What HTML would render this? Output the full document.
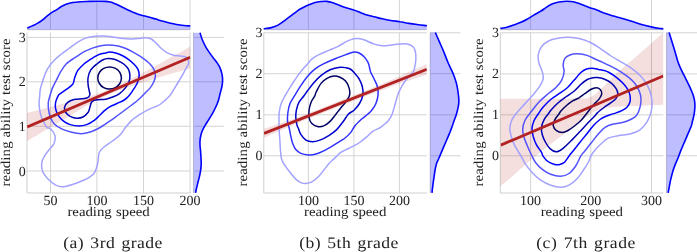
<!DOCTYPE html>
<html lang="en"><head><meta charset="utf-8"><title>Reading speed vs reading ability</title>
<style>
html,body{margin:0;padding:0;background:#fff;}
body{width:697px;height:252px;overflow:hidden;font-family:"Liberation Serif","DejaVu Serif",serif;}
svg{display:block;}
</style></head><body>
<svg width="697" height="252" viewBox="0 0 697 252">
<rect width="697" height="252" fill="#fff"/>
<g>
<clipPath id="ca"><rect x="27.0" y="32.5" width="163.4" height="160.5"/></clipPath>
<path d="M50.50,32.5V193.0M50.50,0.0V29.7M96.90,32.5V193.0M96.90,0.0V29.7M143.50,32.5V193.0M143.50,0.0V29.7M190.10,32.5V193.0M190.10,0.0V29.7M27.0,171.00H190.4M193.5,171.00H224.0M27.0,126.30H190.4M193.5,126.30H224.0M27.0,81.80H190.4M193.5,81.80H224.0M27.0,37.40H190.4M193.5,37.40H224.0" stroke="#cfcfcf" stroke-width="0.9" fill="none"/>
<path d="M27.0,32.5V193.0H190.4 M27.0,29.7H190.4 M193.5,32.5V193.0" stroke="#cfcfcf" stroke-width="1" fill="none"/>
<g clip-path="url(#ca)">
<path d="M27.0,113.0C32.5,111.6 49.5,107.3 60.0,104.5C70.5,101.7 81.7,98.9 90.0,96.3C98.3,93.7 103.3,91.8 110.0,89.0C116.7,86.2 121.7,83.7 130.0,79.4C138.3,75.1 149.9,68.9 160.0,63.4C170.1,57.9 185.3,49.3 190.4,46.5L190.4,68.2C185.3,69.7 170.1,73.9 160.0,77.0C149.9,80.1 138.3,83.7 130.0,86.6C121.7,89.5 116.7,91.3 110.0,94.2C103.3,97.1 98.3,99.4 90.0,103.9C81.7,108.5 70.5,115.3 60.0,121.5C49.5,127.7 32.5,137.9 27.0,141.2 Z" fill="#b22222" fill-opacity="0.15"/>
<path d="M46.1,71.6C47.5,68.8 49.0,66.4 51.1,63.8C53.2,61.2 55.8,58.6 58.8,56.1C61.8,53.6 65.7,50.8 68.9,48.5C72.1,46.2 75.0,43.9 77.8,42.2C80.6,40.5 83.0,39.1 85.5,38.1C88.0,37.1 90.1,36.7 93.1,36.4C96.0,36.1 99.8,36.0 103.2,36.1C106.6,36.2 109.9,36.7 113.2,37.1C116.5,37.5 120.1,38.1 123.3,38.4C126.5,38.7 129.4,39.0 132.2,39.0C134.9,39.0 137.5,38.6 139.8,38.4C142.1,38.2 144.3,37.6 146.2,37.7C148.1,37.8 149.6,38.0 151.3,39.0C153.0,40.0 154.7,41.8 156.4,43.4C158.1,45.0 159.7,47.0 161.4,48.5C163.1,50.0 164.6,51.2 166.5,52.3C168.4,53.4 170.6,54.3 172.9,54.9C175.2,55.5 178.4,55.7 180.5,56.0C182.6,56.3 184.3,56.4 185.6,56.9C186.9,57.4 187.6,58.1 188.1,59.3C188.6,60.4 189.0,61.8 188.4,63.8C187.8,65.8 185.8,68.8 184.3,71.6C182.8,74.4 180.9,77.6 179.2,80.5C177.5,83.4 175.8,86.2 174.2,88.8C172.6,91.3 172.1,93.2 169.7,95.8C167.3,98.4 163.3,102.3 160.0,104.5C156.7,106.7 153.1,107.4 150.0,108.9C146.9,110.4 144.1,111.9 141.7,113.3C139.3,114.7 137.5,115.9 135.8,117.1C134.1,118.3 133.4,118.7 131.7,120.4C130.0,122.1 127.4,125.1 125.4,127.5C123.5,129.9 122.2,132.8 120.0,135.0C117.8,137.2 115.2,139.0 112.5,141.0C109.8,143.0 106.2,145.2 104.0,147.0C101.8,148.8 100.4,150.3 99.5,152.0C98.6,153.7 98.8,154.9 98.5,157.0C98.2,159.1 98.1,161.8 97.5,164.3C96.9,166.8 96.2,169.7 95.0,171.8C93.8,173.9 92.2,175.3 90.0,176.8C87.8,178.3 84.8,179.7 81.7,181.0C78.7,182.3 74.9,183.7 71.7,184.7C68.5,185.7 65.2,186.7 62.5,186.8C59.9,186.9 58.2,186.4 55.8,185.2C53.4,183.9 50.5,181.7 48.3,179.3C46.1,176.9 43.6,173.8 42.5,171.0C41.4,168.2 41.4,165.2 41.7,162.7C42.0,160.2 43.2,158.2 44.5,156.0C45.8,153.8 47.6,151.9 49.2,149.8C50.8,147.7 53.2,145.5 54.2,143.2C55.2,140.8 55.6,138.1 55.0,135.7C54.4,133.3 52.1,130.3 50.8,129.0C49.5,127.7 48.2,128.4 47.3,127.8C46.4,127.2 46.3,126.9 45.4,125.2C44.5,123.5 42.5,120.1 41.6,117.6C40.7,115.1 40.1,112.5 39.7,110.0C39.3,107.5 39.1,104.7 39.1,102.4C39.1,100.1 39.5,98.2 39.7,96.0C39.9,93.8 39.8,92.0 40.3,89.4C40.8,86.8 41.9,83.5 42.9,80.5C43.9,77.5 44.7,74.4 46.1,71.6Z" fill="none" stroke="#a3a3ff" stroke-width="1.5"/>
<path d="M60.7,71.6C62.4,68.8 64.0,66.2 66.4,63.8C68.8,61.4 72.3,59.4 75.3,57.4C78.3,55.4 81.2,53.3 84.2,51.7C87.2,50.1 90.3,48.9 93.1,47.9C95.8,46.9 98.2,46.2 100.7,45.7C103.2,45.2 105.4,44.9 108.3,44.9C111.2,44.9 115.3,45.4 118.2,46.0C121.1,46.6 123.4,47.5 125.9,48.5C128.5,49.5 131.0,50.9 133.5,52.3C136.0,53.7 139.0,55.4 141.1,56.8C143.2,58.2 144.7,59.4 146.2,60.6C147.7,61.8 148.7,62.6 150.0,64.0C151.3,65.4 152.9,67.2 153.8,69.1C154.7,71.0 155.4,73.3 155.4,75.4C155.4,77.5 154.7,79.7 153.8,81.8C152.9,83.9 151.5,86.2 150.0,88.1C148.5,90.0 146.8,91.2 144.9,93.2C143.0,95.2 140.5,97.8 138.3,99.8C136.1,101.8 133.9,103.3 131.7,105.0C129.5,106.7 127.2,108.3 125.0,110.0C122.8,111.7 120.7,113.3 118.3,115.0C115.9,116.7 113.6,118.5 110.8,120.4C108.0,122.3 104.9,124.7 101.7,126.5C98.5,128.3 95.0,130.3 91.7,131.5C88.4,132.7 85.0,133.6 81.7,133.7C78.4,133.8 75.0,133.1 71.7,132.3C68.4,131.5 64.6,130.3 61.7,128.9C58.8,127.5 56.2,125.9 54.3,124.0C52.4,122.1 51.5,119.9 50.5,117.6C49.5,115.3 49.0,112.5 48.6,110.0C48.2,107.5 48.1,104.7 48.3,102.4C48.5,100.1 49.2,98.4 49.9,96.0C50.6,93.6 51.3,90.7 52.4,88.1C53.5,85.5 54.8,83.2 56.2,80.5C57.6,77.8 59.0,74.4 60.7,71.6Z" fill="none" stroke="#5252ff" stroke-width="1.5"/>
<path d="M77.8,70.4C79.4,68.0 82.1,65.7 84.2,63.8C86.3,61.9 88.2,60.8 90.5,59.3C92.8,57.8 95.7,56.0 98.2,54.9C100.8,53.8 103.9,53.4 105.8,52.9C107.7,52.4 107.8,52.1 109.4,52.1C111.1,52.1 113.6,52.4 115.7,53.0C117.8,53.6 120.0,54.5 122.1,55.5C124.2,56.5 126.5,57.9 128.4,59.3C130.4,60.7 132.2,62.4 133.8,64.0C135.4,65.6 137.0,67.2 137.9,69.1C138.8,71.0 139.3,73.1 139.2,75.4C139.1,77.7 138.2,80.8 137.3,83.1C136.4,85.4 134.9,87.3 133.5,89.4C132.1,91.5 130.6,94.0 129.0,95.8C127.5,97.6 126.1,98.8 124.2,100.0C122.3,101.2 119.9,102.2 117.5,103.3C115.1,104.4 112.2,105.5 110.0,106.7C107.8,108.0 106.0,109.3 104.2,110.8C102.4,112.3 100.9,114.2 99.2,115.8C97.5,117.4 96.4,118.9 94.3,120.4C92.2,121.9 89.2,123.7 86.7,124.6C84.2,125.5 81.8,125.9 79.1,125.9C76.3,125.9 72.8,125.4 70.2,124.6C67.6,123.8 65.2,122.4 63.2,120.8C61.2,119.2 59.4,117.1 58.1,115.1C56.8,113.1 56.0,110.8 55.6,108.7C55.2,106.6 55.2,104.6 55.6,102.4C56.0,100.2 57.4,97.2 58.1,95.8C58.8,94.4 58.6,95.0 60.0,93.9C61.4,92.8 64.3,91.0 66.4,89.4C68.5,87.8 71.3,86.2 72.7,84.3C74.1,82.4 73.8,80.3 74.6,78.0C75.4,75.7 76.2,72.8 77.8,70.4Z" fill="none" stroke="#0000ff" stroke-width="1.5"/>
<path d="M74.0,99.6C76.3,99.0 79.6,99.0 81.6,98.8C83.6,98.6 84.8,98.5 86.0,98.2C87.2,97.9 87.9,97.6 88.6,97.0C89.2,96.4 89.8,95.3 89.9,94.5C90.1,93.7 89.8,93.5 89.5,92.0C89.2,90.5 88.5,87.9 88.2,85.6C88.0,83.3 87.6,80.5 88.0,78.0C88.4,75.5 89.0,72.7 90.5,70.4C92.0,68.1 94.8,65.8 96.9,64.0C99.0,62.2 101.1,60.7 103.0,59.8C104.9,58.9 106.2,58.6 108.1,58.5C110.0,58.4 112.5,58.8 114.4,59.3C116.3,59.8 117.9,60.7 119.5,61.5C121.1,62.3 122.5,62.9 124.0,64.2C125.5,65.5 127.4,67.2 128.4,69.1C129.4,71.0 129.8,73.3 129.9,75.4C130.0,77.5 129.8,79.7 129.0,81.8C128.2,83.9 126.8,86.1 125.2,88.1C123.6,90.1 121.5,92.1 119.5,93.6C117.5,95.0 115.6,95.9 113.3,96.8C111.0,97.7 108.3,98.7 105.8,99.2C103.3,99.7 100.2,99.5 98.2,99.7C96.2,99.9 94.8,100.0 93.6,100.5C92.4,101.0 91.8,101.6 91.2,102.8C90.6,104.0 90.4,105.8 89.9,107.4C89.4,109.0 89.2,110.9 88.0,112.5C86.8,114.1 84.8,116.0 82.9,117.0C81.0,118.0 78.7,118.3 76.6,118.2C74.5,118.1 72.0,117.2 70.2,116.3C68.4,115.3 66.8,114.0 65.8,112.5C64.8,111.0 64.2,109.1 64.5,107.4C64.8,105.7 66.1,103.7 67.7,102.4C69.3,101.1 71.7,100.2 74.0,99.6Z" fill="none" stroke="#0000b4" stroke-width="1.5"/>
<path d="M121.4,78.0C121.4,79.8 120.8,81.9 119.8,83.5C118.8,85.2 117.2,86.7 115.5,87.6C113.8,88.5 111.6,89.1 109.6,89.1C107.6,89.1 105.4,88.5 103.7,87.6C102.0,86.7 100.4,85.2 99.4,83.5C98.4,81.9 97.8,79.8 97.8,78.0C97.8,76.2 98.4,74.1 99.4,72.5C100.4,70.8 102.0,69.3 103.7,68.4C105.4,67.5 107.6,66.9 109.6,66.9C111.6,66.9 113.8,67.5 115.5,68.4C117.2,69.3 118.8,70.8 119.8,72.4C120.8,74.1 121.4,76.2 121.4,78.0Z" fill="none" stroke="#000064" stroke-width="1.5"/>
<path d="M27.3,127.0L190.2,57.3" stroke="#b22222" stroke-width="2.8" stroke-linecap="butt"/>
</g>
<path d="M27.3,28.0C28.1,27.6 30.6,26.7 32.3,25.9C34.0,25.1 35.6,24.4 37.3,23.4C39.0,22.4 40.6,21.4 42.3,20.1C44.0,18.9 45.6,17.2 47.3,15.9C49.0,14.6 50.8,13.2 52.3,12.2C53.8,11.2 54.5,11.0 56.0,10.1C57.5,9.2 59.3,7.7 61.0,6.7C62.7,5.7 64.0,4.9 66.0,4.2C68.0,3.5 70.2,2.9 72.7,2.5C75.2,2.1 78.2,1.9 81.0,1.7C83.8,1.5 86.5,1.5 89.3,1.4C92.1,1.3 94.9,1.2 97.7,1.2C100.5,1.2 104.0,1.3 106.0,1.4C108.0,1.5 108.8,1.8 110.0,2.0C111.2,2.2 111.7,2.4 113.0,2.9C114.3,3.4 116.3,4.2 118.0,5.0C119.7,5.8 121.3,6.7 123.0,7.5C124.7,8.3 126.3,9.2 128.0,10.0C129.7,10.8 131.3,11.6 133.0,12.3C134.7,13.0 136.2,13.6 138.0,14.2C139.8,14.8 141.9,15.3 143.8,15.8C145.8,16.3 147.7,16.8 149.7,17.3C151.7,17.9 154.3,18.6 156.0,19.1C157.7,19.6 158.2,19.9 160.0,20.4C161.8,20.9 164.5,21.6 166.7,22.2C168.9,22.8 171.1,23.3 173.3,23.8C175.5,24.3 177.8,24.7 180.0,25.0C182.2,25.3 185.0,25.5 186.7,25.7C188.4,25.9 189.7,25.9 190.3,26.0L190.3,29.7L27.3,29.7Z" fill="rgba(0,0,255,0.26)"/>
<path d="M27.3,28.0C28.1,27.6 30.6,26.7 32.3,25.9C34.0,25.1 35.6,24.4 37.3,23.4C39.0,22.4 40.6,21.4 42.3,20.1C44.0,18.9 45.6,17.2 47.3,15.9C49.0,14.6 50.8,13.2 52.3,12.2C53.8,11.2 54.5,11.0 56.0,10.1C57.5,9.2 59.3,7.7 61.0,6.7C62.7,5.7 64.0,4.9 66.0,4.2C68.0,3.5 70.2,2.9 72.7,2.5C75.2,2.1 78.2,1.9 81.0,1.7C83.8,1.5 86.5,1.5 89.3,1.4C92.1,1.3 94.9,1.2 97.7,1.2C100.5,1.2 104.0,1.3 106.0,1.4C108.0,1.5 108.8,1.8 110.0,2.0C111.2,2.2 111.7,2.4 113.0,2.9C114.3,3.4 116.3,4.2 118.0,5.0C119.7,5.8 121.3,6.7 123.0,7.5C124.7,8.3 126.3,9.2 128.0,10.0C129.7,10.8 131.3,11.6 133.0,12.3C134.7,13.0 136.2,13.6 138.0,14.2C139.8,14.8 141.9,15.3 143.8,15.8C145.8,16.3 147.7,16.8 149.7,17.3C151.7,17.9 154.3,18.6 156.0,19.1C157.7,19.6 158.2,19.9 160.0,20.4C161.8,20.9 164.5,21.6 166.7,22.2C168.9,22.8 171.1,23.3 173.3,23.8C175.5,24.3 177.8,24.7 180.0,25.0C182.2,25.3 185.0,25.5 186.7,25.7C188.4,25.9 189.7,25.9 190.3,26.0" fill="none" stroke="#0000ff" stroke-width="1.6"/>
<path d="M200.0,32.8C200.4,34.0 201.4,37.7 202.5,40.2C203.6,42.7 204.8,45.3 206.3,47.8C207.8,50.3 209.7,53.0 211.4,55.4C213.1,57.8 215.1,60.0 216.5,62.0C217.9,64.0 218.8,65.2 219.7,67.1C220.6,69.0 221.3,71.3 221.8,73.4C222.3,75.5 222.6,77.7 222.6,79.8C222.6,81.9 222.4,83.7 222.0,86.1C221.6,88.5 220.6,91.6 220.0,94.0C219.4,96.4 219.1,98.3 218.4,100.4C217.7,102.5 216.9,104.6 215.9,106.7C214.9,108.8 213.9,111.0 212.7,113.1C211.5,115.2 210.2,117.3 208.9,119.4C207.6,121.5 206.2,123.5 205.0,125.6C203.8,127.6 202.7,129.5 201.9,131.7C201.1,133.9 200.5,136.5 200.2,138.7C199.9,140.9 199.9,142.9 200.0,145.0C200.1,147.1 200.4,149.2 200.6,151.4C200.8,153.6 200.9,155.8 201.0,158.0C201.1,160.2 201.3,162.3 201.2,164.4C201.1,166.5 200.9,168.6 200.6,170.7C200.3,172.8 199.8,175.0 199.3,177.1C198.8,179.2 198.2,181.3 197.7,183.4C197.2,185.5 196.5,188.2 196.2,189.8C195.8,191.4 195.7,192.3 195.6,192.8L193.5,192.8L193.5,32.8Z" fill="rgba(0,0,255,0.26)"/>
<path d="M200.0,32.8C200.4,34.0 201.4,37.7 202.5,40.2C203.6,42.7 204.8,45.3 206.3,47.8C207.8,50.3 209.7,53.0 211.4,55.4C213.1,57.8 215.1,60.0 216.5,62.0C217.9,64.0 218.8,65.2 219.7,67.1C220.6,69.0 221.3,71.3 221.8,73.4C222.3,75.5 222.6,77.7 222.6,79.8C222.6,81.9 222.4,83.7 222.0,86.1C221.6,88.5 220.6,91.6 220.0,94.0C219.4,96.4 219.1,98.3 218.4,100.4C217.7,102.5 216.9,104.6 215.9,106.7C214.9,108.8 213.9,111.0 212.7,113.1C211.5,115.2 210.2,117.3 208.9,119.4C207.6,121.5 206.2,123.5 205.0,125.6C203.8,127.6 202.7,129.5 201.9,131.7C201.1,133.9 200.5,136.5 200.2,138.7C199.9,140.9 199.9,142.9 200.0,145.0C200.1,147.1 200.4,149.2 200.6,151.4C200.8,153.6 200.9,155.8 201.0,158.0C201.1,160.2 201.3,162.3 201.2,164.4C201.1,166.5 200.9,168.6 200.6,170.7C200.3,172.8 199.8,175.0 199.3,177.1C198.8,179.2 198.2,181.3 197.7,183.4C197.2,185.5 196.5,188.2 196.2,189.8C195.8,191.4 195.7,192.3 195.6,192.8" fill="none" stroke="#0000ff" stroke-width="1.6"/>
<g font-family="'Liberation Serif', 'DejaVu Serif', serif" font-size="14" fill="#222" text-rendering="geometricPrecision">
<text x="50.5" y="205.4" text-anchor="middle">50</text>
<text x="96.9" y="205.4" text-anchor="middle">100</text>
<text x="143.5" y="205.4" text-anchor="middle">150</text>
<text x="190.1" y="205.4" text-anchor="middle">200</text>
<text x="25.8" y="175.5" text-anchor="end">0</text>
<text x="25.8" y="130.8" text-anchor="end">1</text>
<text x="25.8" y="86.3" text-anchor="end">2</text>
<text x="25.8" y="41.9" text-anchor="end">3</text>
</g>
<g font-family="'Liberation Serif', 'DejaVu Serif', serif" font-size="13.5" fill="#222" text-rendering="geometricPrecision">
<text transform="translate(108.6,216.2) scale(1.100,1)" text-anchor="middle" textLength="74.8" word-spacing="0.6" lengthAdjust="spacing">reading speed</text>
<text transform="translate(9.8,112.5) rotate(-90) scale(1.100,1)" text-anchor="middle" textLength="134.7" lengthAdjust="spacing">reading ability test score</text>
</g>
<text transform="translate(112.8,247.8) scale(1.100,1)" text-anchor="middle" font-family="'Liberation Serif', 'DejaVu Serif', serif" font-size="16" fill="#222" text-rendering="geometricPrecision" word-spacing="1.2" textLength="90.2" lengthAdjust="spacing">(a) 3rd grade</text>
</g>
<g>
<clipPath id="cb"><rect x="263.8" y="32.5" width="163.0" height="160.5"/></clipPath>
<path d="M308.40,32.5V193.0M308.40,0.0V29.7M353.90,32.5V193.0M353.90,0.0V29.7M399.40,32.5V193.0M399.40,0.0V29.7M263.8,155.80H426.8M430.1,155.80H460.5M263.8,114.80H426.8M430.1,114.80H460.5M263.8,73.70H426.8M430.1,73.70H460.5M263.8,32.80H426.8M430.1,32.80H460.5" stroke="#cfcfcf" stroke-width="0.9" fill="none"/>
<path d="M263.8,32.5V193.0H426.8 M263.8,29.7H426.8 M430.1,32.5V193.0" stroke="#cfcfcf" stroke-width="1" fill="none"/>
<g clip-path="url(#cb)">
<path d="M263.8,128.8C269.8,126.7 286.5,121.4 300.0,116.4C313.5,111.4 330.0,104.8 345.0,98.8C360.0,92.8 376.4,86.2 390.0,80.4C403.6,74.6 420.7,66.7 426.8,64.0L426.8,74.6C420.7,76.7 403.6,82.3 390.0,87.2C376.4,92.1 360.0,98.4 345.0,104.2C330.0,110.0 313.5,116.6 300.0,122.2C286.5,127.8 269.8,135.2 263.8,137.8 Z" fill="#b22222" fill-opacity="0.15"/>
<path d="M300.8,71.6C303.0,68.8 305.6,66.2 307.5,64.0C309.4,61.9 310.2,60.3 312.3,58.7C314.4,57.1 317.1,55.6 319.9,54.2C322.6,52.8 325.8,51.7 328.8,50.4C331.8,49.1 334.9,48.0 337.7,46.6C340.4,45.2 343.1,43.4 345.3,42.2C347.5,41.0 349.1,40.2 351.0,39.6C352.9,39.0 354.8,38.5 356.5,38.4C358.2,38.3 359.5,38.6 361.0,38.9C362.5,39.2 363.2,39.4 365.4,40.3C367.6,41.2 371.3,43.2 374.3,44.1C377.3,45.0 380.0,45.6 383.2,45.7C386.4,45.8 390.0,45.0 393.4,44.7C396.8,44.4 400.8,43.8 403.5,43.8C406.2,43.8 408.1,44.0 409.9,44.7C411.6,45.4 413.0,46.4 414.0,47.9C415.0,49.4 415.4,51.6 415.7,53.6C416.0,55.6 415.9,58.3 415.8,60.0C415.7,61.7 415.7,61.8 415.3,63.8C414.9,65.8 414.7,69.2 413.3,71.7C411.9,74.2 408.7,76.4 406.9,78.7C405.1,81.0 403.8,82.8 402.3,85.3C400.9,87.8 399.3,90.9 398.2,93.7C397.1,96.5 396.7,98.7 395.7,102.0C394.7,105.3 393.5,110.6 392.3,113.7C391.1,116.8 389.8,118.8 388.3,120.7C386.8,122.6 385.0,123.8 383.5,125.0C382.0,126.2 381.1,127.0 379.4,128.0C377.6,129.0 375.1,129.7 373.0,131.2C370.9,132.7 368.8,135.1 366.7,136.9C364.6,138.7 362.6,140.4 360.3,142.0C358.0,143.6 355.2,145.0 352.7,146.4C350.2,147.8 347.2,149.1 345.1,150.2C343.0,151.3 341.4,151.7 340.0,152.8C338.6,153.9 337.6,155.4 336.4,156.6C335.2,157.8 333.9,158.8 332.6,160.0C331.3,161.2 330.3,162.1 328.8,163.8C327.3,165.5 325.4,168.1 323.7,170.2C322.0,172.3 320.5,174.6 318.6,176.5C316.7,178.4 314.4,180.4 312.3,181.6C310.2,182.8 307.8,183.3 305.9,183.5C304.0,183.7 302.5,183.3 300.8,182.6C299.1,181.9 297.5,180.6 295.8,179.1C294.1,177.6 292.4,175.4 290.7,173.3C289.0,171.2 287.1,168.7 285.6,166.4C284.1,164.2 282.7,162.4 281.8,159.8C280.9,157.2 280.8,154.1 280.5,150.9C280.2,147.7 280.1,144.1 279.9,140.7C279.7,137.3 279.3,133.7 279.2,130.5C279.1,127.3 279.0,124.4 279.0,121.4C279.0,118.4 278.8,115.5 279.2,112.5C279.6,109.5 280.2,106.4 281.2,103.6C282.2,100.8 283.7,98.2 285.0,95.8C286.3,93.4 287.2,92.0 288.8,89.4C290.4,86.9 292.5,83.5 294.5,80.5C296.5,77.5 298.6,74.3 300.8,71.6Z" fill="none" stroke="#a3a3ff" stroke-width="1.5"/>
<path d="M300.8,85.6C302.9,82.4 304.9,79.5 307.2,76.7C309.5,74.0 312.1,71.2 314.8,69.1C317.5,67.0 320.0,65.6 323.4,63.9C326.8,62.2 331.5,60.2 335.2,58.7C338.9,57.2 342.8,55.9 345.3,54.9C347.9,53.9 349.0,53.5 350.5,53.0C352.0,52.5 353.0,52.1 354.4,52.1C355.8,52.1 357.5,52.2 359.1,53.0C360.7,53.8 362.7,55.4 364.1,56.8C365.5,58.2 366.5,59.9 367.3,61.2C368.1,62.5 368.2,62.7 368.8,64.5C369.4,66.3 369.7,69.6 370.6,72.0C371.5,74.4 372.9,76.2 374.0,78.7C375.1,81.2 376.8,84.2 377.5,87.0C378.2,89.8 378.3,92.5 378.0,95.3C377.7,98.1 376.9,101.2 375.8,103.7C374.8,106.2 373.0,108.6 371.7,110.3C370.4,112.0 369.7,112.5 368.0,114.0C366.3,115.5 363.9,117.0 361.7,119.0C359.5,121.0 356.8,123.5 355.0,125.7C353.2,127.9 352.4,130.3 350.8,132.4C349.2,134.5 346.7,136.7 345.1,138.0C343.6,139.3 343.6,139.0 341.5,140.3C339.4,141.6 335.6,144.0 332.6,145.8C329.6,147.6 326.4,149.5 323.7,150.9C320.9,152.3 318.6,153.3 316.1,154.0C313.6,154.7 311.1,155.0 308.5,154.9C305.9,154.8 302.9,154.3 300.8,153.4C298.7,152.5 297.2,151.3 295.8,149.6C294.4,147.9 293.5,145.5 292.6,143.2C291.8,140.9 291.3,138.1 290.7,135.6C290.1,133.1 289.7,130.4 289.2,128.0C288.7,125.6 287.7,124.0 287.5,121.4C287.3,118.8 287.5,115.5 287.9,112.5C288.3,109.5 288.9,106.4 290.0,103.6C291.1,100.8 292.7,98.8 294.5,95.8C296.3,92.8 298.7,88.8 300.8,85.6Z" fill="none" stroke="#3030ff" stroke-width="1.5"/>
<path d="M304.0,95.8C305.4,93.9 305.6,93.4 307.2,91.3C308.8,89.2 311.3,85.8 313.6,83.1C315.9,80.4 318.4,77.6 321.2,75.4C323.9,73.2 326.9,71.1 330.1,69.7C333.3,68.3 337.6,67.5 340.2,67.2C342.8,66.9 344.2,67.4 346.0,67.8C347.8,68.2 349.6,68.6 351.0,69.5C352.4,70.4 353.2,71.5 354.5,73.0C355.8,74.5 357.7,76.4 359.0,78.7C360.3,81.0 361.8,84.2 362.4,87.0C363.0,89.8 363.3,92.5 362.8,95.3C362.3,98.0 361.0,101.0 359.5,103.5C358.0,106.0 355.8,108.5 354.0,110.3C352.2,112.0 350.3,112.1 348.5,114.0C346.7,115.9 345.2,118.8 343.2,121.5C341.2,124.2 338.8,127.6 336.4,129.9C334.0,132.2 331.6,133.9 328.8,135.6C326.1,137.3 322.6,139.1 319.9,140.1C317.1,141.1 314.6,141.7 312.3,141.7C310.0,141.7 307.8,141.3 305.9,140.1C304.0,138.9 302.1,136.4 300.8,134.4C299.5,132.4 298.9,129.5 298.3,128.0C297.7,126.5 297.4,126.9 297.0,125.2C296.6,123.5 295.9,120.1 295.8,117.6C295.7,115.1 295.9,112.5 296.4,110.0C296.9,107.5 297.6,104.8 298.9,102.4C300.2,100.0 302.6,97.7 304.0,95.8Z" fill="none" stroke="#0000cc" stroke-width="1.5"/>
<path d="M333.9,76.1C336.1,75.9 338.1,76.5 340.0,77.3C341.9,78.1 343.9,79.3 345.3,80.8C346.7,82.3 347.9,84.6 348.6,86.5C349.4,88.4 349.7,90.3 349.8,92.0C349.9,93.7 349.9,94.7 349.1,96.5C348.4,98.3 346.8,100.6 345.3,102.6C343.8,104.6 341.9,106.6 340.2,108.7C338.5,110.8 336.9,113.0 335.2,115.1C333.5,117.2 332.0,119.6 330.1,121.4C328.2,123.2 325.8,125.1 323.7,125.9C321.6,126.8 319.4,126.9 317.4,126.5C315.4,126.1 313.0,124.8 311.6,123.3C310.2,121.8 309.5,119.8 309.1,117.6C308.7,115.4 308.8,112.5 309.1,110.0C309.4,107.5 310.1,104.8 311.0,102.4C311.9,100.0 313.9,97.6 314.8,95.8C315.7,94.0 315.3,93.6 316.4,91.5C317.5,89.4 319.4,85.3 321.2,83.1C323.0,80.9 324.9,79.5 327.0,78.3C329.1,77.1 331.7,76.3 333.9,76.1Z" fill="none" stroke="#000064" stroke-width="1.5"/>
<path d="M264.1,133.4L426.9,69.2" stroke="#b22222" stroke-width="2.8" stroke-linecap="butt"/>
</g>
<path d="M263.7,28.7C265.0,28.5 268.9,28.2 271.3,27.6C273.7,27.0 275.9,26.2 278.0,25.1C280.1,24.0 282.1,22.4 284.2,20.8C286.3,19.2 288.6,17.5 290.8,15.8C293.0,14.1 295.4,12.2 297.5,10.8C299.6,9.4 301.5,8.5 303.3,7.5C305.1,6.5 306.4,5.8 308.3,5.0C310.2,4.2 312.8,3.1 315.0,2.5C317.2,1.9 319.7,1.7 321.7,1.5C323.7,1.3 325.3,1.2 327.0,1.4C328.7,1.6 330.1,1.9 332.0,2.5C333.9,3.1 336.5,4.2 338.7,5.0C340.9,5.8 342.8,6.7 345.3,7.5C347.8,8.3 351.2,9.2 353.7,10.0C356.2,10.8 358.1,11.7 360.3,12.5C362.5,13.3 364.7,14.3 367.0,15.0C369.3,15.7 371.4,16.2 374.0,16.8C376.6,17.4 379.5,18.2 382.3,18.8C385.1,19.4 387.8,20.0 390.7,20.5C393.6,21.0 396.8,21.3 399.8,21.8C402.9,22.2 405.9,22.9 409.0,23.4C412.1,23.9 415.2,24.3 418.2,24.7C421.2,25.1 425.4,25.5 426.9,25.7L426.9,29.7L263.7,29.7Z" fill="rgba(0,0,255,0.26)"/>
<path d="M263.7,28.7C265.0,28.5 268.9,28.2 271.3,27.6C273.7,27.0 275.9,26.2 278.0,25.1C280.1,24.0 282.1,22.4 284.2,20.8C286.3,19.2 288.6,17.5 290.8,15.8C293.0,14.1 295.4,12.2 297.5,10.8C299.6,9.4 301.5,8.5 303.3,7.5C305.1,6.5 306.4,5.8 308.3,5.0C310.2,4.2 312.8,3.1 315.0,2.5C317.2,1.9 319.7,1.7 321.7,1.5C323.7,1.3 325.3,1.2 327.0,1.4C328.7,1.6 330.1,1.9 332.0,2.5C333.9,3.1 336.5,4.2 338.7,5.0C340.9,5.8 342.8,6.7 345.3,7.5C347.8,8.3 351.2,9.2 353.7,10.0C356.2,10.8 358.1,11.7 360.3,12.5C362.5,13.3 364.7,14.3 367.0,15.0C369.3,15.7 371.4,16.2 374.0,16.8C376.6,17.4 379.5,18.2 382.3,18.8C385.1,19.4 387.8,20.0 390.7,20.5C393.6,21.0 396.8,21.3 399.8,21.8C402.9,22.2 405.9,22.9 409.0,23.4C412.1,23.9 415.2,24.3 418.2,24.7C421.2,25.1 425.4,25.5 426.9,25.7" fill="none" stroke="#0000ff" stroke-width="1.6"/>
<path d="M435.4,32.5C436.0,34.0 437.8,38.2 439.2,41.4C440.6,44.6 442.3,48.2 443.7,51.6C445.1,55.0 446.5,59.0 447.8,62.0C449.1,65.0 450.2,67.1 451.3,69.6C452.4,72.1 453.6,74.7 454.5,77.2C455.4,79.8 456.2,82.1 456.8,84.9C457.4,87.7 458.0,91.4 458.3,94.0C458.6,96.6 458.9,98.3 458.9,100.4C458.9,102.5 458.7,104.4 458.3,106.7C457.9,109.0 457.1,111.9 456.4,114.3C455.7,116.7 454.6,119.3 453.9,121.3C453.2,123.2 453.1,124.0 452.3,126.0C451.6,128.1 450.5,130.8 449.4,133.6C448.3,136.3 446.9,139.5 445.6,142.5C444.3,145.5 442.9,148.8 441.8,151.4C440.7,154.0 439.9,156.1 439.0,158.0C438.1,159.9 437.3,161.2 436.7,163.1C436.1,165.0 435.6,167.3 435.2,169.4C434.8,171.5 434.5,173.5 434.2,175.8C433.9,178.1 433.4,181.1 433.1,183.4C432.8,185.7 432.5,188.2 432.3,189.8C432.1,191.4 432.1,192.3 432.0,192.8L430.1,192.8L430.1,32.5Z" fill="rgba(0,0,255,0.26)"/>
<path d="M435.4,32.5C436.0,34.0 437.8,38.2 439.2,41.4C440.6,44.6 442.3,48.2 443.7,51.6C445.1,55.0 446.5,59.0 447.8,62.0C449.1,65.0 450.2,67.1 451.3,69.6C452.4,72.1 453.6,74.7 454.5,77.2C455.4,79.8 456.2,82.1 456.8,84.9C457.4,87.7 458.0,91.4 458.3,94.0C458.6,96.6 458.9,98.3 458.9,100.4C458.9,102.5 458.7,104.4 458.3,106.7C457.9,109.0 457.1,111.9 456.4,114.3C455.7,116.7 454.6,119.3 453.9,121.3C453.2,123.2 453.1,124.0 452.3,126.0C451.6,128.1 450.5,130.8 449.4,133.6C448.3,136.3 446.9,139.5 445.6,142.5C444.3,145.5 442.9,148.8 441.8,151.4C440.7,154.0 439.9,156.1 439.0,158.0C438.1,159.9 437.3,161.2 436.7,163.1C436.1,165.0 435.6,167.3 435.2,169.4C434.8,171.5 434.5,173.5 434.2,175.8C433.9,178.1 433.4,181.1 433.1,183.4C432.8,185.7 432.5,188.2 432.3,189.8C432.1,191.4 432.1,192.3 432.0,192.8" fill="none" stroke="#0000ff" stroke-width="1.6"/>
<g font-family="'Liberation Serif', 'DejaVu Serif', serif" font-size="14" fill="#222" text-rendering="geometricPrecision">
<text x="308.4" y="205.4" text-anchor="middle">100</text>
<text x="353.9" y="205.4" text-anchor="middle">150</text>
<text x="399.4" y="205.4" text-anchor="middle">200</text>
<text x="262.6" y="160.3" text-anchor="end">0</text>
<text x="262.6" y="119.3" text-anchor="end">1</text>
<text x="262.6" y="78.2" text-anchor="end">2</text>
<text x="262.6" y="37.3" text-anchor="end">3</text>
</g>
<g font-family="'Liberation Serif', 'DejaVu Serif', serif" font-size="13.5" fill="#222" text-rendering="geometricPrecision">
<text transform="translate(345.2,216.2) scale(1.100,1)" text-anchor="middle" textLength="74.8" word-spacing="0.6" lengthAdjust="spacing">reading speed</text>
<text transform="translate(246.6,112.5) rotate(-90) scale(1.100,1)" text-anchor="middle" textLength="134.7" lengthAdjust="spacing">reading ability test score</text>
</g>
<text transform="translate(348.8,247.8) scale(1.100,1)" text-anchor="middle" font-family="'Liberation Serif', 'DejaVu Serif', serif" font-size="16" fill="#222" text-rendering="geometricPrecision" word-spacing="1.2" textLength="90.2" lengthAdjust="spacing">(b) 5th grade</text>
</g>
<g>
<clipPath id="cc"><rect x="500.3" y="32.5" width="163.1" height="160.5"/></clipPath>
<path d="M530.60,32.5V193.0M530.60,0.0V29.7M590.80,32.5V193.0M590.80,0.0V29.7M651.50,32.5V193.0M651.50,0.0V29.7M500.3,155.80H663.4M666.5,155.80H697.0M500.3,114.80H663.4M666.5,114.80H697.0M500.3,73.90H663.4M666.5,73.90H697.0M500.3,32.80H663.4M666.5,32.80H697.0" stroke="#cfcfcf" stroke-width="0.9" fill="none"/>
<path d="M500.3,32.5V193.0H663.4 M500.3,29.7H663.4 M666.5,32.5V193.0" stroke="#cfcfcf" stroke-width="1" fill="none"/>
<g clip-path="url(#cc)">
<path d="M500.3,98.7C506.9,98.7 528.4,98.7 540.0,98.7C551.6,98.7 563.0,98.7 570.0,98.7C577.0,98.7 579.0,98.7 582.0,98.6C585.0,98.5 586.2,98.5 588.0,98.0C589.8,97.5 591.3,96.8 593.0,95.8C594.7,94.8 596.4,93.2 598.0,91.8C599.6,90.4 598.5,91.4 602.5,87.6C606.5,83.8 616.0,74.0 621.8,68.7C627.5,63.4 630.1,62.0 637.0,56.0C643.9,50.0 659.0,36.4 663.4,32.5L663.4,104.8C659.5,105.0 647.2,105.5 640.0,105.8C632.8,106.1 626.0,106.1 620.0,106.5C614.0,106.9 608.7,107.2 604.0,108.3C599.3,109.4 595.7,111.1 592.0,113.0C588.3,114.9 585.5,117.3 582.0,119.8C578.5,122.3 574.3,125.6 571.2,128.0C568.1,130.4 566.5,132.1 563.5,134.4C560.5,136.7 557.0,139.2 553.4,142.0C549.8,144.8 545.6,147.9 541.9,150.9C538.2,153.9 536.2,155.4 531.1,159.8C526.0,164.2 516.1,173.1 511.0,177.5C505.9,181.9 502.1,185.0 500.3,186.5 Z" fill="#b22222" fill-opacity="0.15"/>
<path d="M542.3,71.7C541.6,69.1 539.7,66.1 539.0,63.3C538.3,60.5 537.8,57.8 538.2,55.0C538.6,52.2 539.7,49.1 541.5,46.7C543.3,44.3 546.1,42.2 549.0,40.8C551.9,39.3 555.7,38.6 559.0,38.0C562.3,37.4 565.7,37.1 569.0,37.2C572.3,37.3 575.7,37.6 579.0,38.4C582.3,39.2 585.5,40.1 589.0,41.8C592.5,43.4 596.3,45.9 600.0,48.3C603.7,50.7 607.4,53.6 611.0,56.0C614.6,58.4 618.3,60.3 621.8,62.4C625.3,64.5 628.7,66.4 631.9,68.7C635.1,71.0 638.5,73.9 640.8,76.3C643.1,78.7 644.4,80.7 645.9,83.0C647.4,85.3 648.8,87.9 649.7,90.4C650.7,92.9 651.2,95.5 651.6,98.0C652.0,100.5 652.2,103.0 652.0,105.6C651.8,108.2 651.5,110.9 650.6,113.7C649.7,116.5 648.5,119.6 646.7,122.3C644.9,125.0 642.8,127.9 640.0,129.8C637.2,131.8 633.6,133.0 630.0,134.0C626.4,135.0 621.9,135.0 618.3,135.7C614.7,136.4 611.3,136.7 608.3,138.2C605.2,139.7 602.5,142.5 600.0,144.8C597.5,147.2 594.8,150.4 593.3,152.3C591.8,154.2 591.4,155.1 590.7,156.5C590.0,157.9 590.1,158.9 589.0,161.0C587.9,163.1 586.0,166.4 584.0,169.3C582.0,172.2 579.8,175.8 577.3,178.5C574.8,181.2 571.8,183.7 569.0,185.2C566.2,186.7 563.8,187.3 560.7,187.3C557.7,187.3 554.0,186.4 550.7,185.2C547.4,184.0 543.8,182.3 540.7,180.2C537.6,178.1 534.8,175.3 532.3,172.7C529.8,170.0 527.6,167.1 525.7,164.3C523.8,161.5 522.8,159.1 521.0,156.0C519.2,152.9 516.4,148.8 514.8,145.7C513.2,142.6 512.3,140.1 511.5,137.3C510.7,134.5 509.8,131.8 509.8,129.0C509.8,126.2 510.5,123.2 511.5,120.7C512.5,118.2 514.5,115.7 515.7,114.0C517.0,112.3 517.2,112.3 519.0,110.3C520.8,108.3 524.0,104.8 526.5,102.0C529.0,99.2 531.8,96.3 534.0,93.7C536.2,91.1 538.3,88.7 539.8,86.2C541.3,83.7 542.8,81.1 543.2,78.7C543.6,76.3 543.0,74.3 542.3,71.7Z" fill="none" stroke="#a3a3ff" stroke-width="1.5"/>
<path d="M564.1,71.7C564.4,69.2 563.0,67.2 563.1,65.0C563.2,62.8 563.8,60.0 564.9,58.3C566.0,56.6 567.8,55.8 569.9,55.0C572.0,54.2 574.9,53.7 577.8,53.8C580.6,53.9 584.0,54.4 587.0,55.4C590.0,56.4 593.4,58.3 596.0,59.5C598.6,60.7 599.5,60.9 602.7,62.4C605.9,63.9 611.6,66.6 615.4,68.7C619.2,70.8 622.6,73.0 625.6,75.1C628.6,77.2 631.2,79.3 633.2,81.4C635.2,83.5 636.5,85.5 637.7,87.8C638.9,90.1 640.0,92.6 640.5,95.0C641.0,97.4 641.1,99.5 640.9,102.0C640.7,104.5 640.0,107.8 639.2,110.0C638.5,112.2 637.6,114.0 636.4,115.5C635.1,117.0 633.9,117.9 631.7,119.0C629.5,120.1 626.4,121.5 623.3,122.3C620.2,123.1 616.3,123.2 613.3,124.0C610.2,124.8 607.5,125.6 605.0,127.3C602.5,129.0 600.5,131.5 598.3,134.0C596.1,136.5 593.9,139.5 591.7,142.3C589.5,145.1 586.8,148.4 585.0,150.7C583.2,153.0 582.3,153.4 580.8,156.0C579.2,158.6 577.7,163.1 575.7,166.0C573.7,168.9 571.5,171.8 569.0,173.5C566.5,175.2 563.8,176.2 560.7,176.3C557.7,176.4 553.8,175.5 550.7,174.3C547.6,173.1 544.8,171.2 542.3,169.3C539.8,167.4 537.4,164.9 535.7,162.7C534.0,160.5 533.4,158.8 532.0,156.0C530.6,153.2 528.6,148.8 527.3,145.7C526.0,142.6 524.8,140.1 524.0,137.3C523.2,134.5 522.6,131.8 522.7,129.0C522.8,126.2 523.7,123.2 524.8,120.7C525.9,118.2 528.1,115.7 529.4,114.0C530.6,112.3 530.7,112.3 532.3,110.3C533.9,108.3 536.5,104.6 539.0,102.0C541.5,99.4 544.5,96.9 547.3,94.5C550.1,92.1 553.3,90.2 555.7,87.8C558.1,85.4 560.2,83.0 561.6,80.3C563.0,77.6 563.9,74.2 564.1,71.7Z" fill="none" stroke="#5252ff" stroke-width="1.5"/>
<path d="M581.2,72.3C583.2,70.5 584.1,70.0 585.9,69.3C587.7,68.6 589.9,68.3 592.0,68.3C594.1,68.3 596.5,69.0 598.5,69.4C600.5,69.8 602.2,70.0 604.0,70.5C605.8,71.0 607.0,71.3 609.1,72.5C611.2,73.7 614.4,75.8 616.7,77.6C619.0,79.4 621.2,81.4 623.0,83.3C624.8,85.2 626.3,87.1 627.5,89.1C628.7,91.1 629.6,93.3 630.0,95.4C630.4,97.5 630.5,99.8 630.0,101.8C629.5,103.8 628.4,105.9 626.8,107.5C625.2,109.1 622.8,110.2 620.5,111.3C618.2,112.4 615.2,113.1 612.9,113.9C610.6,114.7 608.6,115.1 606.5,116.0C604.4,116.9 602.2,117.9 600.0,119.5C597.8,121.1 595.5,123.3 593.3,125.7C591.1,128.1 588.9,131.2 586.7,134.0C584.5,136.8 582.2,139.5 580.0,142.3C577.8,145.1 575.1,148.4 573.3,150.7C571.5,153.0 570.6,154.0 569.1,156.0C567.6,158.0 565.7,161.2 564.0,162.7C562.3,164.1 560.7,164.4 559.0,164.7C557.3,165.0 556.0,164.9 554.0,164.3C552.0,163.7 549.1,162.4 547.3,161.0C545.5,159.6 544.0,157.4 543.0,156.0C542.0,154.6 542.6,154.2 541.5,152.3C540.4,150.4 537.9,147.4 536.5,144.8C535.1,142.2 534.0,139.3 533.2,136.5C532.5,133.7 531.9,130.8 532.0,128.2C532.1,125.6 533.0,123.1 534.0,120.7C535.0,118.3 536.7,116.3 538.2,114.0C539.7,111.7 541.1,109.4 543.2,107.0C545.3,104.6 548.1,101.7 550.7,99.5C553.3,97.3 556.2,95.7 559.0,93.7C561.8,91.8 564.8,90.0 567.3,87.8C569.8,85.6 571.7,82.9 574.0,80.3C576.3,77.7 579.2,74.1 581.2,72.3Z" fill="none" stroke="#0000ff" stroke-width="1.5"/>
<path d="M592.5,77.9C594.2,77.6 595.5,77.3 597.6,77.6C599.7,77.9 602.9,78.5 605.2,79.5C607.5,80.5 609.8,81.8 611.6,83.3C613.4,84.8 615.0,86.7 616.0,88.4C617.0,90.1 617.9,91.8 617.9,93.5C617.9,95.2 617.3,97.0 616.0,98.6C614.7,100.2 612.3,101.6 610.3,103.1C608.3,104.6 606.1,105.9 604.0,107.5C601.9,109.1 599.1,111.2 597.6,112.6C596.1,114.0 596.3,114.4 594.8,116.0C593.3,117.6 590.8,119.9 588.5,122.3C586.2,124.7 583.7,127.7 581.0,130.5C578.3,133.3 575.5,136.4 572.5,139.4C569.5,142.4 565.5,146.5 562.8,148.6C560.1,150.7 558.3,151.8 556.2,151.8C554.1,151.9 552.1,150.5 550.3,148.9C548.5,147.3 546.9,144.8 545.6,142.5C544.3,140.2 543.0,137.3 542.3,134.8C541.6,132.3 541.2,129.8 541.5,127.3C541.8,124.8 542.9,122.0 544.0,119.8C545.1,117.6 547.0,115.7 548.2,114.0C549.5,112.3 549.8,111.4 551.5,109.5C553.2,107.6 555.8,104.9 558.2,102.8C560.6,100.7 563.1,98.9 565.7,97.0C568.3,95.1 571.5,93.3 574.0,91.2C576.5,89.1 578.5,86.5 580.7,84.5C582.9,82.5 585.3,80.6 587.3,79.5C589.3,78.4 590.8,78.2 592.5,77.9Z" fill="none" stroke="#0000b4" stroke-width="1.5"/>
<path d="M596.2,87.8C597.8,87.8 599.3,88.5 600.2,89.5C601.1,90.5 602.0,92.1 601.8,93.7C601.6,95.3 600.5,97.2 599.2,98.9C597.9,100.6 595.8,102.2 594.2,104.0C592.6,105.8 590.8,108.1 589.5,109.8C588.2,111.5 587.7,112.2 586.3,114.0C584.9,115.8 583.0,118.5 581.0,120.5C579.0,122.5 576.7,124.3 574.5,126.0C572.3,127.7 570.0,129.4 568.0,130.5C566.0,131.6 564.2,132.5 562.3,132.5C560.4,132.5 558.0,131.8 556.5,130.7C555.0,129.6 553.5,127.5 553.2,125.7C552.9,123.9 553.8,121.8 554.8,119.8C555.8,117.8 558.0,115.4 559.0,114.0C560.0,112.6 559.6,112.5 560.7,111.2C561.8,109.9 563.8,107.9 565.7,106.2C567.6,104.5 570.1,102.6 572.3,101.2C574.5,99.8 576.9,99.0 579.0,97.8C581.1,96.5 582.8,95.1 584.8,93.7C586.8,92.3 588.8,90.5 590.7,89.5C592.6,88.5 594.6,87.8 596.2,87.8Z" fill="none" stroke="#000064" stroke-width="1.5"/>
<path d="M500.8,145.1L663.2,76.0" stroke="#b22222" stroke-width="2.8" stroke-linecap="butt"/>
</g>
<path d="M500.3,28.4C501.4,28.2 504.8,27.8 507.0,27.2C509.2,26.6 511.5,25.9 513.7,25.1C515.9,24.3 518.1,23.6 520.3,22.6C522.5,21.6 524.8,20.5 527.0,19.2C529.2,18.0 531.5,16.4 533.7,15.1C535.9,13.8 538.4,12.5 540.3,11.4C542.2,10.3 543.4,9.4 545.0,8.3C546.6,7.2 548.3,5.9 550.0,5.0C551.7,4.1 553.2,3.4 555.0,2.9C556.8,2.4 558.8,2.0 560.8,1.7C562.8,1.4 564.6,1.2 566.7,1.2C568.8,1.3 571.2,1.4 573.3,1.8C575.4,2.2 577.2,2.8 579.2,3.5C581.2,4.2 583.1,5.0 585.0,5.8C586.9,6.5 588.5,7.3 590.5,8.0C592.5,8.7 594.6,9.1 596.7,9.9C598.8,10.7 601.1,11.9 603.3,12.8C605.5,13.6 607.8,14.3 610.0,15.0C612.2,15.7 614.5,16.3 616.7,16.9C618.9,17.5 621.1,18.0 623.3,18.7C625.5,19.4 627.8,20.1 630.0,20.8C632.2,21.5 634.5,22.2 636.7,22.9C638.9,23.6 641.4,24.5 643.3,25.0C645.2,25.5 646.3,25.7 648.0,26.1C649.7,26.5 651.6,27.0 653.3,27.4C655.0,27.8 656.6,28.0 658.3,28.2C660.0,28.5 662.5,28.6 663.3,28.7L663.3,29.7L500.3,29.7Z" fill="rgba(0,0,255,0.26)"/>
<path d="M500.3,28.4C501.4,28.2 504.8,27.8 507.0,27.2C509.2,26.6 511.5,25.9 513.7,25.1C515.9,24.3 518.1,23.6 520.3,22.6C522.5,21.6 524.8,20.5 527.0,19.2C529.2,18.0 531.5,16.4 533.7,15.1C535.9,13.8 538.4,12.5 540.3,11.4C542.2,10.3 543.4,9.4 545.0,8.3C546.6,7.2 548.3,5.9 550.0,5.0C551.7,4.1 553.2,3.4 555.0,2.9C556.8,2.4 558.8,2.0 560.8,1.7C562.8,1.4 564.6,1.2 566.7,1.2C568.8,1.3 571.2,1.4 573.3,1.8C575.4,2.2 577.2,2.8 579.2,3.5C581.2,4.2 583.1,5.0 585.0,5.8C586.9,6.5 588.5,7.3 590.5,8.0C592.5,8.7 594.6,9.1 596.7,9.9C598.8,10.7 601.1,11.9 603.3,12.8C605.5,13.6 607.8,14.3 610.0,15.0C612.2,15.7 614.5,16.3 616.7,16.9C618.9,17.5 621.1,18.0 623.3,18.7C625.5,19.4 627.8,20.1 630.0,20.8C632.2,21.5 634.5,22.2 636.7,22.9C638.9,23.6 641.4,24.5 643.3,25.0C645.2,25.5 646.3,25.7 648.0,26.1C649.7,26.5 651.6,27.0 653.3,27.4C655.0,27.8 656.6,28.0 658.3,28.2C660.0,28.5 662.5,28.6 663.3,28.7" fill="none" stroke="#0000ff" stroke-width="1.6"/>
<path d="M669.1,32.5C669.6,34.2 671.2,39.3 672.3,42.7C673.3,46.1 674.4,49.7 675.4,52.9C676.4,56.1 677.0,59.2 678.0,62.0C679.0,64.8 680.0,67.1 681.2,69.6C682.4,72.1 683.6,74.5 685.0,77.2C686.4,80.0 688.1,83.3 689.4,86.1C690.7,88.9 691.9,91.6 692.8,94.0C693.6,96.4 694.1,98.3 694.5,100.4C694.9,102.5 695.0,104.4 694.9,106.7C694.8,109.0 694.5,112.0 694.1,114.3C693.7,116.6 693.1,118.8 692.6,120.7C692.1,122.7 692.1,123.6 691.3,126.0C690.4,128.4 688.8,131.9 687.5,134.9C686.2,137.9 684.9,141.1 683.7,143.8C682.5,146.6 681.5,149.0 680.5,151.4C679.5,153.8 679.0,155.6 678.0,158.0C677.0,160.4 675.8,163.1 674.8,165.6C673.8,168.1 673.0,170.6 672.3,173.2C671.6,175.8 671.0,178.1 670.4,180.9C669.8,183.7 669.1,187.8 668.7,189.8C668.3,191.8 668.3,192.3 668.2,192.8L666.5,192.8L666.5,32.5Z" fill="rgba(0,0,255,0.26)"/>
<path d="M669.1,32.5C669.6,34.2 671.2,39.3 672.3,42.7C673.3,46.1 674.4,49.7 675.4,52.9C676.4,56.1 677.0,59.2 678.0,62.0C679.0,64.8 680.0,67.1 681.2,69.6C682.4,72.1 683.6,74.5 685.0,77.2C686.4,80.0 688.1,83.3 689.4,86.1C690.7,88.9 691.9,91.6 692.8,94.0C693.6,96.4 694.1,98.3 694.5,100.4C694.9,102.5 695.0,104.4 694.9,106.7C694.8,109.0 694.5,112.0 694.1,114.3C693.7,116.6 693.1,118.8 692.6,120.7C692.1,122.7 692.1,123.6 691.3,126.0C690.4,128.4 688.8,131.9 687.5,134.9C686.2,137.9 684.9,141.1 683.7,143.8C682.5,146.6 681.5,149.0 680.5,151.4C679.5,153.8 679.0,155.6 678.0,158.0C677.0,160.4 675.8,163.1 674.8,165.6C673.8,168.1 673.0,170.6 672.3,173.2C671.6,175.8 671.0,178.1 670.4,180.9C669.8,183.7 669.1,187.8 668.7,189.8C668.3,191.8 668.3,192.3 668.2,192.8" fill="none" stroke="#0000ff" stroke-width="1.6"/>
<g font-family="'Liberation Serif', 'DejaVu Serif', serif" font-size="14" fill="#222" text-rendering="geometricPrecision">
<text x="530.6" y="205.4" text-anchor="middle">100</text>
<text x="590.8" y="205.4" text-anchor="middle">200</text>
<text x="651.5" y="205.4" text-anchor="middle">300</text>
<text x="499.1" y="160.3" text-anchor="end">0</text>
<text x="499.1" y="119.3" text-anchor="end">1</text>
<text x="499.1" y="78.4" text-anchor="end">2</text>
<text x="499.1" y="37.3" text-anchor="end">3</text>
</g>
<g font-family="'Liberation Serif', 'DejaVu Serif', serif" font-size="13.5" fill="#222" text-rendering="geometricPrecision">
<text transform="translate(581.8,216.2) scale(1.100,1)" text-anchor="middle" textLength="74.8" word-spacing="0.6" lengthAdjust="spacing">reading speed</text>
<text transform="translate(483.1,112.5) rotate(-90) scale(1.100,1)" text-anchor="middle" textLength="134.7" lengthAdjust="spacing">reading ability test score</text>
</g>
<text transform="translate(585.8,247.8) scale(1.100,1)" text-anchor="middle" font-family="'Liberation Serif', 'DejaVu Serif', serif" font-size="16" fill="#222" text-rendering="geometricPrecision" word-spacing="1.2" textLength="90.2" lengthAdjust="spacing">(c) 7th grade</text>
</g>
</svg>
</body></html>
